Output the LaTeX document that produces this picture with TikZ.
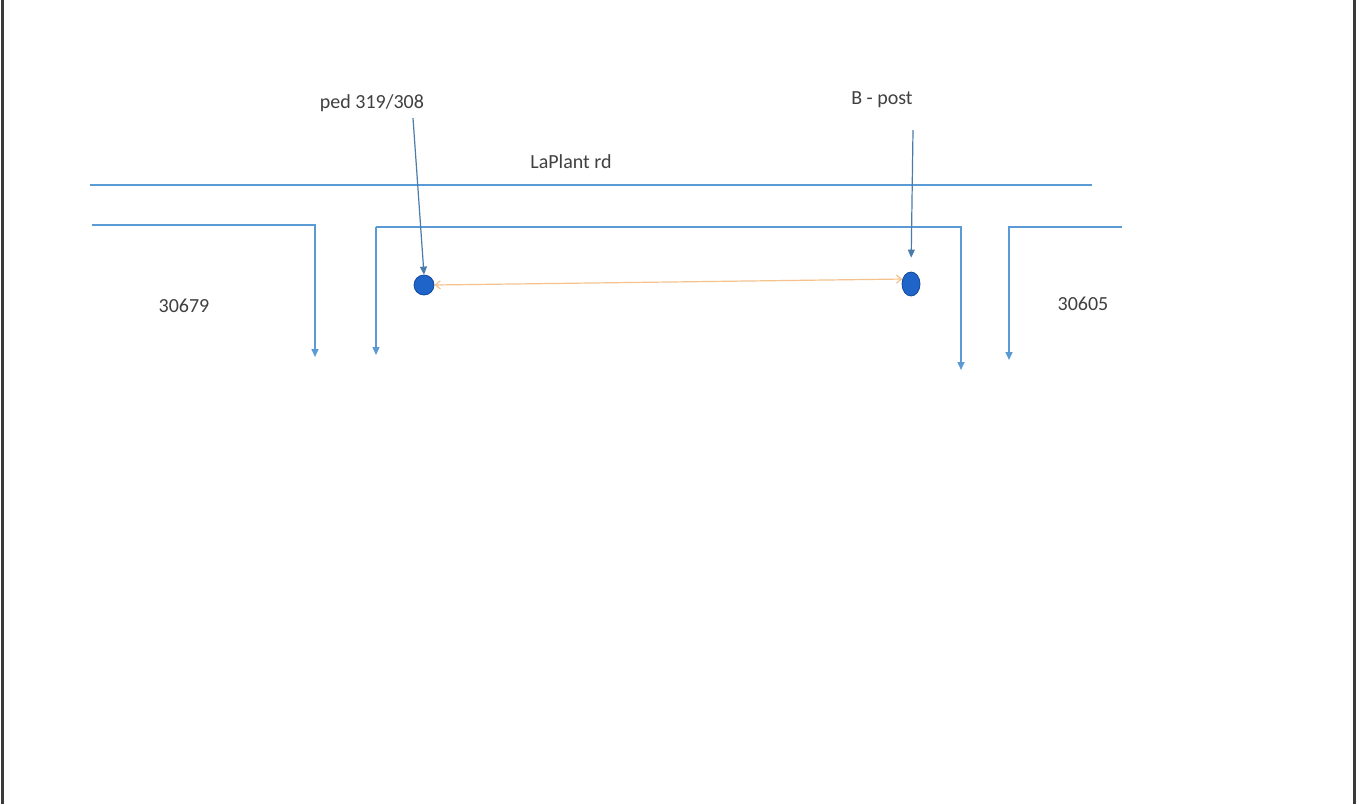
\documentclass[tikz,border=0pt]{standalone}
\usepackage{fontspec}
\setmainfont{Carlito}
\usetikzlibrary{arrows.meta,shapes.geometric}
\definecolor{lineblue}{HTML}{5B9BD5}
\definecolor{dotblue}{HTML}{1F64C8}
\definecolor{dotedge}{HTML}{154A9A}
\definecolor{linkorange}{HTML}{F5C28C}
\definecolor{labelgray}{HTML}{404040}
\definecolor{frame}{HTML}{3A3A3A}
\begin{document}
\begin{tikzpicture}[x=1pt,y=-1pt,
  road/.style={draw=lineblue,line width=1.3pt},
  lot/.style={draw=lineblue,line width=1.5pt,-{Triangle[length=8pt,width=7pt]}},
  pointer/.style={draw=lineblue!80!black,line width=1.2pt,-{Triangle[length=8pt,width=7pt]}},
  label/.style={font=\fontsize{20}{22}\selectfont,text=labelgray,inner sep=0pt},
  post/.style={draw=dotedge,fill=dotblue,line width=0.8pt,inner sep=0pt}]
\useasboundingbox (0,0) rectangle (1359,804);
\fill[white] (0,0) rectangle (1359,804);
% page edges
\draw[frame,line width=3pt] (2,0) -- (2,804);
\draw[frame,line width=3pt] (1354,0) -- (1354,804);

% labels
\node[label] (ped) at (372,103) {ped 319/308};
\node[label] (bpost) at (882,100) {B - post};
\node[label] (road) at (571,162) {LaPlant rd};
\node[label] (lotw) at (184,306) {30679};
\node[label] (lote) at (1083,304) {30605};

% road edge
\coordinate (rw) at (90,185);
\coordinate (re) at (1092,185);
\draw[road] (rw) -- (re);

% lot boundaries
\coordinate (a1) at (92,225);
\coordinate (a2) at (315,225);
\coordinate (a3) at (315,357);
\draw[lot] (a1) -- (a2) -- (a3);

\coordinate (b0) at (376,355);
\coordinate (b1) at (376,227);
\coordinate (b2) at (961,227);
\coordinate (b3) at (961,370);
\draw[lot] (b1) -- (b0);
\draw[lot] (b1) -- (b2) -- (b3);

\coordinate (c1) at (1122,227);
\coordinate (c2) at (1009,227);
\coordinate (c3) at (1009,360);
\draw[lot] (c1) -- (c2) -- (c3);

% posts
\node[post,circle,minimum size=20pt] (p1) at (424,285) {};
\node[post,ellipse,minimum width=18pt,minimum height=24pt] (p2) at (911,284) {};

% pointers to posts
\coordinate (pt1) at (413,118);
\coordinate (pt2) at (913,130);
\draw[pointer] (pt1) -- (p1.north);
\draw[pointer,shorten >=14pt] (pt2) -- (p2.north);

% distance between posts
\draw[linkorange,line width=1.2pt,{Straight Barb[length=5pt,width=8pt]}-{Straight Barb[length=5pt,width=8pt]}] (p1.east) -- (p2.150);
\end{tikzpicture}
\end{document}
